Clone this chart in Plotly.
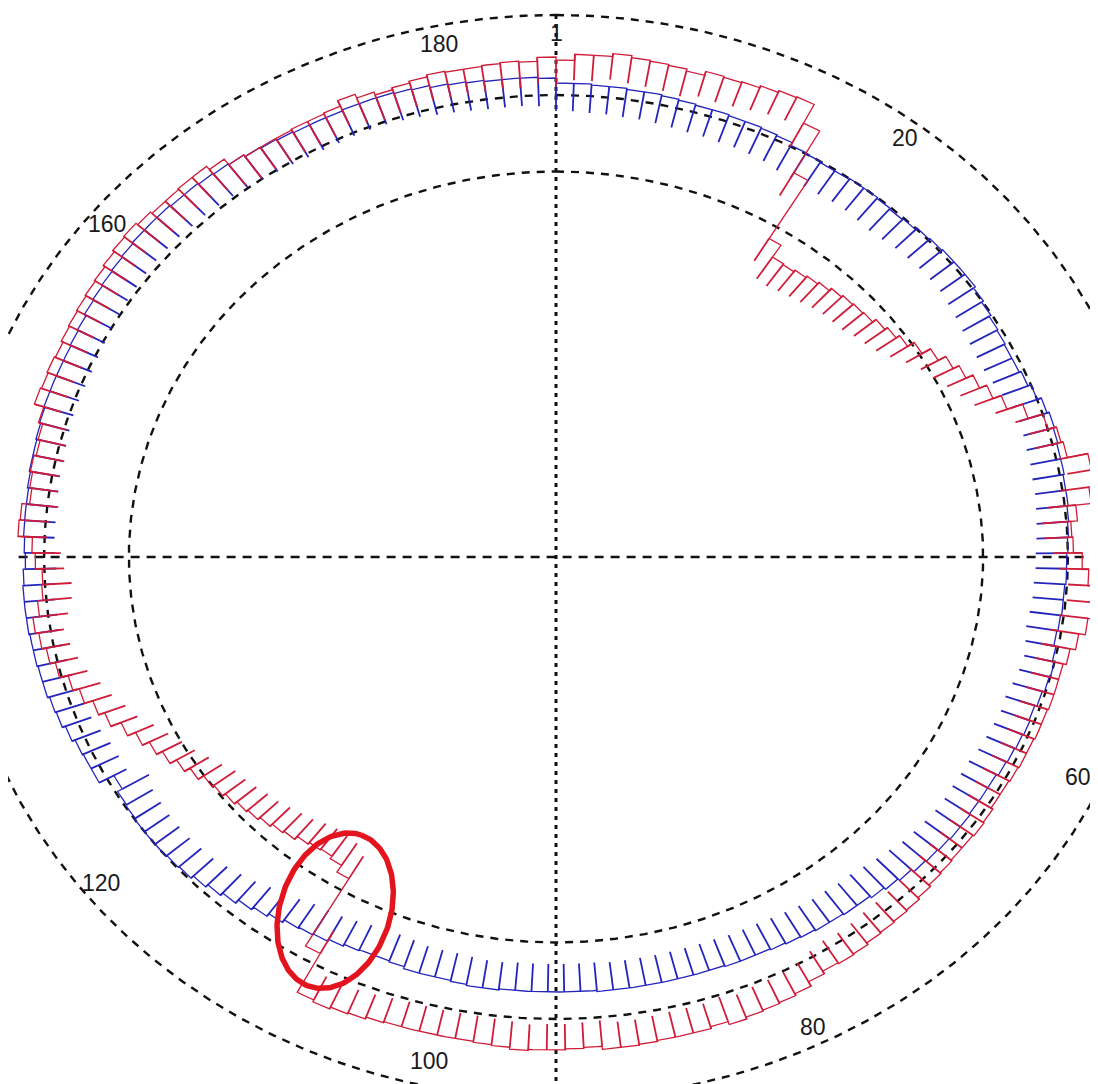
import numpy as np
import plotly.graph_objects as go

# ---------------- data ----------------
N_SAMPLES = 185
sample_labels = [1, 20, 60, 80, 100, 120, 160, 180]

red_r = [
    497, 503, 503, 506, 504, 503, 502, 500, 504, 503,
    504, 506, 508, 509, 488, 440, 372, 358, 357, 359,
    361, 363, 366, 368, 369, 370, 374, 377, 381, 388,
    397, 405, 411, 418, 425, 433, 448, 462, 470, 472,
    491, 495, 486, 472, 466, 467, 475, 481, 489, 489,
    484, 478, 473, 470, 470, 470, 469, 469, 468, 468,
    467, 466, 466, 468, 469, 468, 468, 469, 470, 472,
    474, 475, 476, 477, 479, 480, 479, 482, 487, 489,
    490, 491, 493, 490, 492, 492, 492, 493, 494, 494,
    491, 492, 493, 493, 494, 492, 491, 490, 490, 490,
    490, 490, 491, 493, 494, 496, 494, 450, 372, 364,
    361, 362, 364, 368, 370, 373, 376, 378, 381, 384,
    386, 392, 398, 405, 411, 418, 426, 436, 442, 450,
    456, 464, 469, 473, 476, 470, 465, 464, 470, 473,
    486, 485, 478, 480, 482, 480, 482, 486, 495, 494,
    495, 494, 496, 497, 498, 499, 500, 502, 504, 505,
    503, 501, 501, 502, 502, 498, 491, 489, 489, 489,
    490, 490, 491, 497, 493, 490, 492, 494, 496, 495,
    495, 496, 497, 496, 500,
]

blue_r = [
    474, 474, 473, 473, 472, 472, 471, 470, 469, 469,
    468, 468, 467, 466, 463, 462, 461, 461, 462, 462,
    461, 460, 461, 463, 464, 465, 465, 465, 463, 461,
    459, 458, 457, 457, 459, 462, 466, 468, 467, 466,
    466, 465, 465, 464, 463, 462, 461, 461, 460, 460,
    459, 458, 460, 462, 461, 459, 457, 458, 457, 456,
    455, 453, 453, 453, 454, 454, 453, 452, 451, 448,
    446, 444, 442, 442, 441, 441, 440, 439, 438, 437,
    437, 437, 436, 436, 436, 436, 436, 436, 436, 436,
    435, 435, 435, 435, 435, 435, 436, 436, 435, 434,
    434, 434, 432, 431, 431, 432, 434, 436, 437, 438,
    441, 444, 447, 451, 454, 457, 460, 461, 462, 462,
    462, 461, 460, 455, 470, 470, 471, 474, 477, 478,
    480, 480, 481, 481, 482, 482, 482, 481, 479, 480,
    481, 481, 481, 482, 483, 483, 484, 485, 486, 486,
    486, 486, 487, 488, 490, 491, 492, 493, 494, 495,
    495, 495, 494, 494, 493, 492, 491, 489, 488, 487,
    486, 486, 486, 487, 487, 487, 486, 485, 483, 482,
    481, 480, 480, 480, 479,
]

ref_circle_r = [385.5, 462, 542]      # inner, middle, outer reference circles
label_r = 524
red_tick_len = 26
blue_tick_len = 28
highlight_theta = 209.4               # circled discontinuity (deg, clockwise from sample 1)
highlight_r = 406

# ---------------- geometry helpers ----------------
W, H = 1090, 1076                     # page body keeps an 8px margin in the 1098x1084 window
XSCALE = 1.108                        # horizontal stretch of the original picture
CX, CY = 548, 549                     # centre in figure pixels
x_range = [-CX / XSCALE, (W - CX) / XSCALE]
y_range = [CY - H, CY]

step = 360.0 / N_SAMPLES
theta_start = np.arange(N_SAMPLES) * step


def to_xy(theta_deg, r):
    t = np.radians(theta_deg)
    return np.asarray(r) * np.sin(t), np.asarray(r) * np.cos(t)


def step_profile(r):
    xs, ys = [], []
    for i in range(N_SAMPLES):
        th = np.linspace(theta_start[i], theta_start[i] + step, 5)
        x, y = to_xy(th, r[i])
        xs.extend(x.tolist())
        ys.extend(y.tolist())
    xs.append(xs[0])
    ys.append(ys[0])
    return xs, ys


def ticks(r, length):
    xs, ys = [], []
    for i in range(N_SAMPLES):
        x0, y0 = to_xy(theta_start[i], r[i])
        x1, y1 = to_xy(theta_start[i], r[i] - length)
        xs += [float(x0), float(x1), None]
        ys += [float(y0), float(y1), None]
    return xs, ys


RED = "#d01c38"
BLUE = "#2424bc"
INK = "#111111"

fig = go.Figure()

# reference circles
full = np.linspace(0, 360, 721)
for rc in ref_circle_r:
    cx, cy = to_xy(full, rc)
    fig.add_trace(go.Scatter(x=cx, y=cy, mode="lines",
                             line=dict(color=INK, width=2.4, dash="8px,7px"),
                             hoverinfo="skip", showlegend=False))

# cross lines
fig.add_trace(go.Scatter(x=[-485, 485], y=[0, 0], mode="lines",
                         line=dict(color=INK, width=2.4, dash="9px,7px"),
                         hoverinfo="skip", showlegend=False))
fig.add_trace(go.Scatter(x=[0, 0], y=[-ref_circle_r[2], ref_circle_r[2]], mode="lines",
                         line=dict(color=INK, width=3, dash="4px,5px"),
                         hoverinfo="skip", showlegend=False))

# profiles
for r, col, L in [(blue_r, BLUE, blue_tick_len), (red_r, RED, red_tick_len)]:
    tx, ty = ticks(r, L)
    fig.add_trace(go.Scatter(x=tx, y=ty, mode="lines",
                             line=dict(color=col, width=1.8),
                             hoverinfo="skip", showlegend=False))
    px_, py_ = step_profile(r)
    fig.add_trace(go.Scatter(x=px_, y=py_, mode="lines",
                             line=dict(color=col, width=1.3),
                             hoverinfo="skip", showlegend=False))

# highlight ellipse around the discontinuity
hx, hy = to_xy(highlight_theta, highlight_r)
a_px, b_px, rot = 80, 55, np.radians(19)
t = np.linspace(0, 2 * np.pi, 240)
dxp = a_px * np.cos(t) * np.sin(rot) + b_px * np.sin(t) * np.cos(rot)
dyp = a_px * np.cos(t) * np.cos(rot) - b_px * np.sin(t) * np.sin(rot)
fig.add_trace(go.Scatter(x=float(hx) + dxp / XSCALE, y=float(hy) + dyp, mode="lines",
                         line=dict(color="#e3141e", width=5.5),
                         hoverinfo="skip", showlegend=False))

# sample labels (kept inside the figure)
FONT_SIZE = 23
for n in sample_labels:
    lx, ly = to_xy((n - 1) * step, label_r)
    half_w = 0.3 * FONT_SIZE * len(str(n))
    max_x = x_range[1] - (half_w + 6) / XSCALE
    min_x = x_range[0] + (half_w + 6) / XSCALE
    lx = min(max(float(lx), min_x), max_x)
    ly = min(max(float(ly), y_range[0] + FONT_SIZE), y_range[1] - FONT_SIZE)
    fig.add_annotation(x=lx, y=ly, text=str(n), showarrow=False,
                       font=dict(family="Liberation Sans, Arial", size=FONT_SIZE, color="#1a1a1a"),
                       xanchor="center", yanchor="middle")

fig.update_layout(
    width=W, height=H,
    margin=dict(l=0, r=0, t=0, b=0),
    paper_bgcolor="white", plot_bgcolor="white",
    xaxis=dict(range=x_range, visible=False, fixedrange=True),
    yaxis=dict(range=y_range, visible=False, fixedrange=True),
    showlegend=False,
)

fig.write_html("out.html")
